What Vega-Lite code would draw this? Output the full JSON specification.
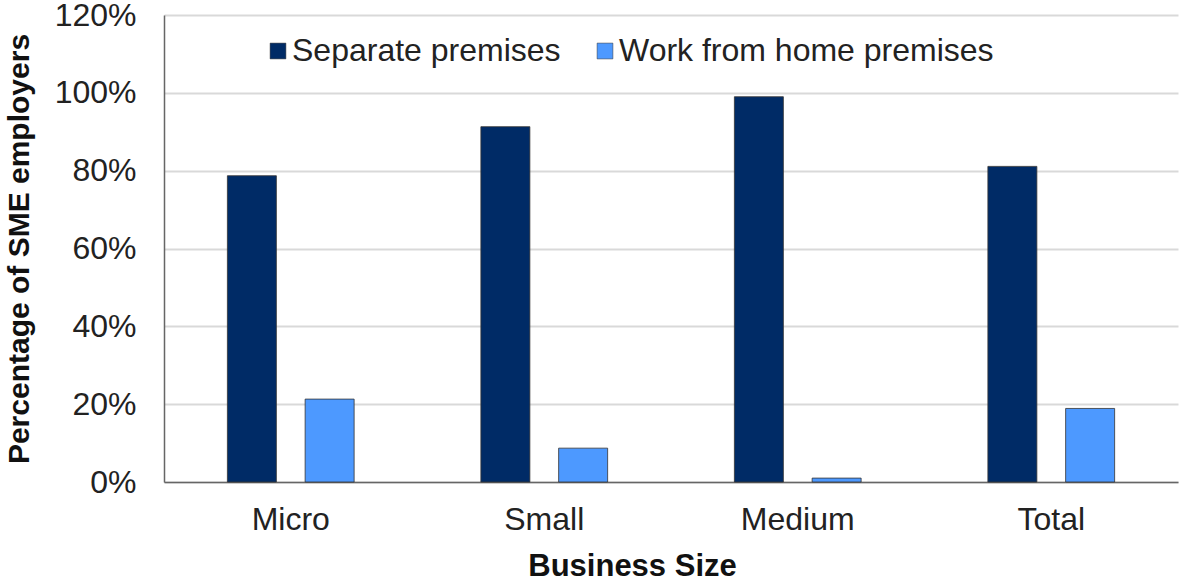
{
  "$schema": "https://vega.github.io/schema/vega-lite/v6.json",
  "autosize": "none",
  "width": 1014,
  "height": 467,
  "padding": {"left": 164, "top": 15, "right": 2, "bottom": 100},
  "background": "white",
  "config": {
    "font": "Liberation Sans",
    "view": {"stroke": null}
  },
  "data": {
    "values": [
      {"size": "Micro", "type": "Separate premises", "value": 0.787},
      {"size": "Micro", "type": "Work from home premises", "value": 0.213},
      {"size": "Small", "type": "Separate premises", "value": 0.913},
      {"size": "Small", "type": "Work from home premises", "value": 0.087},
      {"size": "Medium", "type": "Separate premises", "value": 0.99},
      {"size": "Medium", "type": "Work from home premises", "value": 0.01},
      {"size": "Total", "type": "Separate premises", "value": 0.811},
      {"size": "Total", "type": "Work from home premises", "value": 0.189}
    ]
  },
  "mark": {"type": "bar", "stroke": "#333333", "strokeWidth": 0.8},
  "encoding": {
    "x": {
      "field": "size",
      "type": "nominal",
      "sort": ["Micro", "Small", "Medium", "Total"],
      "scale": {"paddingInner": 0.5, "paddingOuter": 0.25},
      "axis": {
        "title": "Business Size",
        "titleFont": "Liberation Sans",
        "titleFontSize": 31,
        "titleFontWeight": "bold",
        "titleColor": "#111111",
        "titlePadding": 16,
        "titleX": 468,
        "titleAlign": "center",
        "labelAngle": 0,
        "labelFontSize": 32,
        "labelColor": "#222222",
        "labelPadding": 22,
        "ticks": false,
        "domainColor": "#666666",
        "domainWidth": 1.5,
        "grid": false
      }
    },
    "xOffset": {
      "field": "type",
      "type": "nominal",
      "scale": {"paddingInner": 0.37, "paddingOuter": 0}
    },
    "y": {
      "field": "value",
      "type": "quantitative",
      "scale": {"domain": [0, 1.2], "nice": false},
      "axis": {
        "title": "Percentage of SME employers",
        "titleFont": "Liberation Sans",
        "titleFontSize": 30,
        "titleFontWeight": "bold",
        "titleColor": "#111111",
        "titlePadding": 20,
        "values": [0, 0.2, 0.4, 0.6, 0.8, 1.0, 1.2],
        "format": ".0%",
        "labelFontSize": 32,
        "labelColor": "#222222",
        "labelPadding": 28,
        "ticks": false,
        "domainColor": "#666666",
        "domainWidth": 1.5,
        "gridColor": "#d9d9d9",
        "gridWidth": 2
      }
    },
    "color": {
      "field": "type",
      "type": "nominal",
      "scale": {"domain": ["Separate premises", "Work from home premises"], "range": ["#002b66", "#4d99ff"]},
      "legend": {
        "title": null,
        "orient": "none",
        "direction": "horizontal",
        "legendX": 98,
        "legendY": 20,
        "symbolType": "square",
        "symbolSize": 250,
        "symbolStrokeColor": "#333333",
        "symbolStrokeWidth": 0.5,
        "labelFontSize": 32,
        "labelColor": "#222222",
        "labelOffset": -2,
        "columnPadding": 28,
        "labelLimit": 600
      }
    }
  }
}
